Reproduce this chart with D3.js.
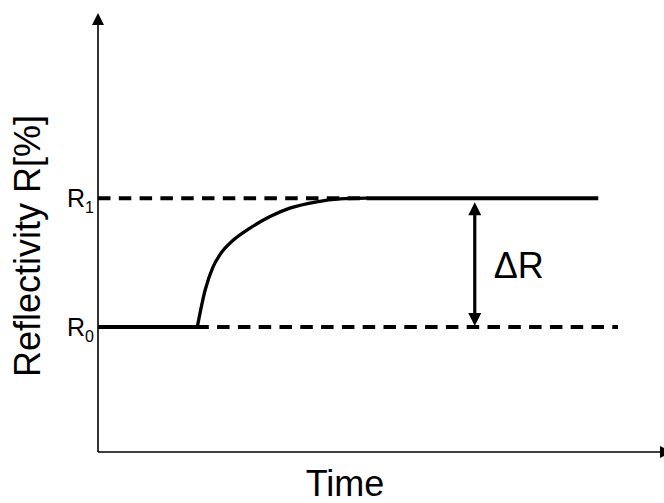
<!DOCTYPE html>
<html>
<head>
<meta charset="utf-8">
<script src="https://cdn.jsdelivr.net/npm/d3@7"></script>
<style>
  body { margin: 0; background: #fff; }
  text { font-family: "Liberation Sans", Arial, sans-serif; fill: #000; }
</style>
</head>
<body>
<div id="chart"></div>
<script>
// reflectivity step response (arbitrary units)
var levelR0 = 31.3;
var levelR1 = 63.6;
var riseStart = 17.6;
var plateauEnd = 88.7;
var riseTime = [17.6, 19.0, 20.4, 21.6, 24.0, 26.95, 30.5, 34.0, 38.8, 42.9, 47.6];
var riseRefl = [31.3, 40.6, 46.4, 49.4, 53.1, 56.1, 59.0, 61.1, 62.7, 63.4, 63.6];
var dashR1End = 47.6;
var dashR0End = 92.2;
var deltaAt = 66.8;

var width = 664, height = 503;
var svg = d3.select('#chart').append('svg')
    .attr('width', width)
    .attr('height', height);

var x = d3.scaleLinear().domain([0, 100]).range([98, 662]);
var y = d3.scaleLinear().domain([0, 110]).range([452, 13]);

// axes with arrow heads
var axisG = svg.append('g');
axisG.append('line')
    .attr('x1', x(0)).attr('y1', y(0))
    .attr('x2', x(0)).attr('y2', y(110) + 10)
    .attr('stroke', '#000').attr('stroke-width', 1.6);
axisG.append('path')
    .attr('d', 'M' + x(0) + ',' + y(110) + 'L' + (x(0) - 6) + ',' + (y(110) + 12) + 'L' + (x(0) + 6) + ',' + (y(110) + 12) + 'Z')
    .attr('fill', '#000');
axisG.append('line')
    .attr('x1', x(0)).attr('y1', y(0))
    .attr('x2', x(100)).attr('y2', y(0))
    .attr('stroke', '#000').attr('stroke-width', 1.6);
axisG.append('path')
    .attr('d', 'M' + (x(100) - 2) + ',' + (y(0) - 6) + 'L' + (x(100) + 10) + ',' + y(0) + 'L' + (x(100) - 2) + ',' + (y(0) + 6) + 'Z')
    .attr('fill', '#000');

// dashed reference levels
svg.append('line')
    .attr('x1', x(0)).attr('x2', x(dashR1End))
    .attr('y1', y(levelR1)).attr('y2', y(levelR1))
    .attr('stroke', '#000').attr('stroke-width', 4)
    .attr('stroke-dasharray', '12.5,8.3');
svg.append('line')
    .attr('x1', x(0)).attr('x2', x(dashR0End))
    .attr('y1', y(levelR0)).attr('y2', y(levelR0))
    .attr('stroke', '#000').attr('stroke-width', 4)
    .attr('stroke-dasharray', '12.5,8.3')
    .attr('stroke-dashoffset', 5.7);

// signal: flat, rise, plateau
svg.append('line')
    .attr('x1', x(0)).attr('x2', x(riseStart))
    .attr('y1', y(levelR0)).attr('y2', y(levelR0))
    .attr('stroke', '#000').attr('stroke-width', 4);

var risePts = riseTime.map(function(t, i) { return [t, riseRefl[i]]; });
var line = d3.line()
    .x(function(d) { return x(d[0]); })
    .y(function(d) { return y(d[1]); })
    .curve(d3.curveMonotoneX);
svg.append('path')
    .attr('d', line(risePts))
    .attr('fill', 'none')
    .attr('stroke', '#000')
    .attr('stroke-width', 3.3)
    .attr('stroke-linecap', 'round');

svg.append('line')
    .attr('x1', x(riseTime[riseTime.length - 1])).attr('x2', x(plateauEnd))
    .attr('y1', y(levelR1)).attr('y2', y(levelR1))
    .attr('stroke', '#000').attr('stroke-width', 4);

// delta R double arrow
var ax = x(deltaAt), yTop = y(levelR1) + 4, yBot = y(levelR0) - 1;
svg.append('line')
    .attr('x1', ax).attr('x2', ax)
    .attr('y1', yTop + 10).attr('y2', yBot - 10)
    .attr('stroke', '#000').attr('stroke-width', 3.2);
svg.append('path')
    .attr('d', 'M' + ax + ',' + yTop + 'L' + (ax - 6.5) + ',' + (yTop + 13) + 'L' + (ax + 6.5) + ',' + (yTop + 13) + 'Z')
    .attr('fill', '#000');
svg.append('path')
    .attr('d', 'M' + ax + ',' + yBot + 'L' + (ax - 6.5) + ',' + (yBot - 13) + 'L' + (ax + 6.5) + ',' + (yBot - 13) + 'Z')
    .attr('fill', '#000');
svg.append('text')
    .attr('x', ax + 19)
    .attr('y', (y(levelR0) + y(levelR1)) / 2 + 15)
    .style('font-size', '36px')
    .text('ΔR');

// level labels
[[levelR1, '1'], [levelR0, '0']].forEach(function(l) {
    var t = svg.append('text')
        .attr('x', 67)
        .attr('y', y(l[0]) + 9)
        .style('font-size', '25px');
    t.append('tspan').text('R');
    t.append('tspan')
        .attr('dy', 6)
        .style('font-size', '16px')
        .text(l[1]);
});

// axis titles
svg.append('text')
    .attr('transform', 'translate(40,246) rotate(-90)')
    .attr('text-anchor', 'middle')
    .style('font-size', '36px')
    .text('Reflectivity R[%]');
svg.append('text')
    .attr('x', 345)
    .attr('y', 496)
    .attr('text-anchor', 'middle')
    .style('font-size', '36px')
    .text('Time');
</script>
</body>
</html>
